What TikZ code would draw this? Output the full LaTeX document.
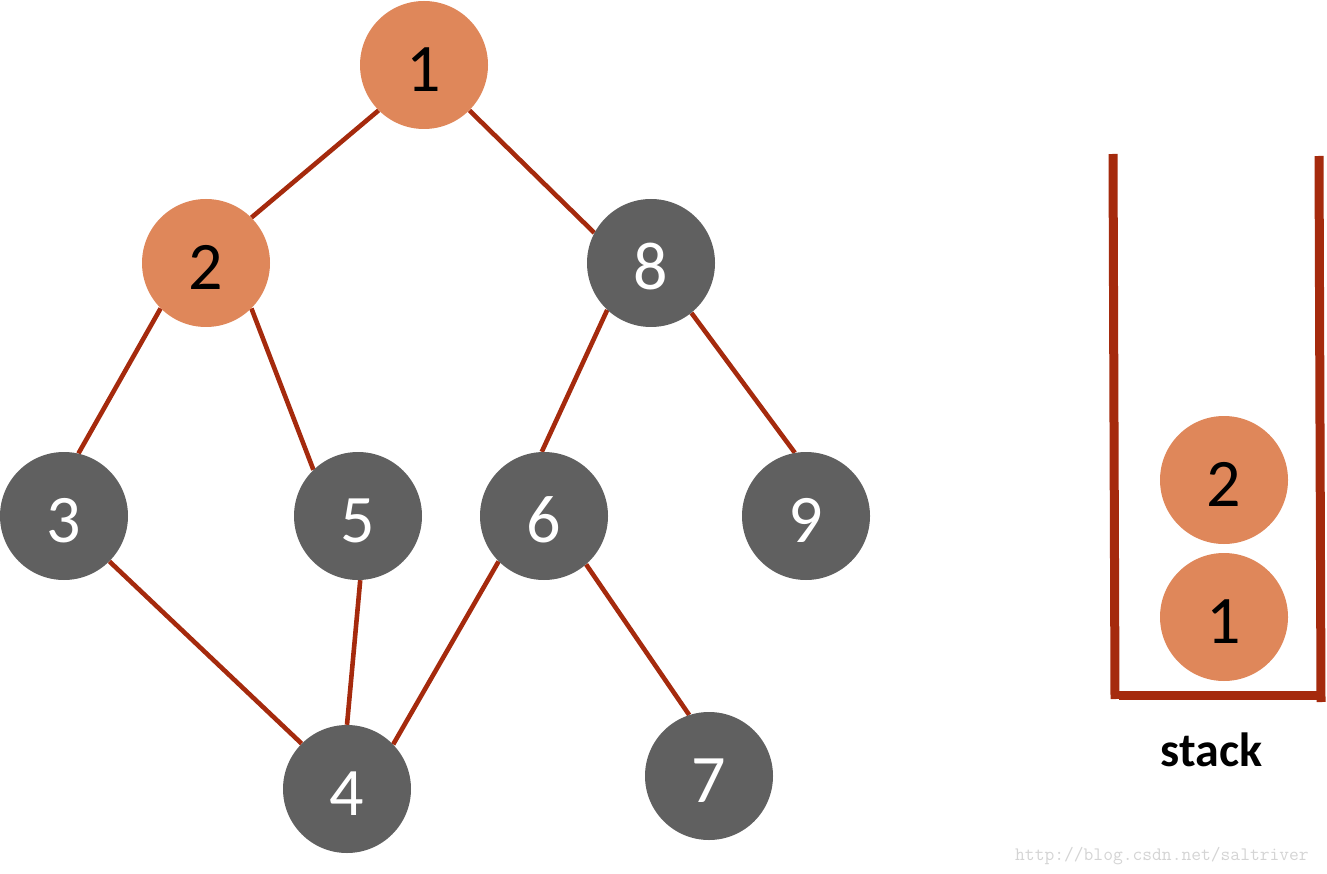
\documentclass[tikz,border=0pt]{standalone}
\usepackage{fontspec}
\setmainfont{Carlito}
\usetikzlibrary{backgrounds}
\definecolor{orangefill}{RGB}{223,135,90}
\definecolor{grayfill}{RGB}{96,96,96}
\definecolor{edgered}{RGB}{165,42,13}
\definecolor{wmgray}{RGB}{212,212,212}
\tikzset{
  vnode/.style={circle, minimum size=128pt, inner sep=0pt, text height=53pt, text depth=0pt,
    font=\fontsize{68}{68}\selectfont},
  visited/.style={vnode, fill=orangefill, text=black},
  unvisited/.style={vnode, fill=grayfill, text=white},
  edge/.style={draw=edgered, line width=4.6pt},
  wall/.style={draw=edgered, line width=9pt},
}
\begin{document}
\begin{tikzpicture}[x=1pt,y=-1pt]
\useasboundingbox (0,0) rectangle (1327,874);
\node[visited] (n1) at (424,65) {1};
\node[visited] (n2) at (206,263) {2};
\node[unvisited] (n8) at (651,263) {8};
\node[unvisited] (n3) at (64,516) {3};
\node[unvisited] (n5) at (358,516) {5};
\node[unvisited] (n6) at (544,516) {6};
\node[unvisited] (n9) at (806,516) {9};
\node[unvisited] (n4) at (347,789) {4};
\node[unvisited] (n7) at (709,776) {7};
\begin{scope}[on background layer]
\draw[edge] (n1.225) -- (n2.45);
\draw[edge] (n1.-45) -- (n8.152);
\draw[edge] (n2.225) -- (n3.77);
\draw[edge] (n2.-45) -- (n5.134);
\draw[edge] (n8.227) -- (n6.92);
\draw[edge] (n8.-51) -- (n9.100);
\draw[edge] (n3.-45) -- (n4.135);
\draw[edge] (n5.-88) -- (n4.90);
\draw[edge] (n6.225) -- (n4.44);
\draw[edge] (n6.-49) -- (n7.108);
\end{scope}
% stack
\coordinate (tl) at (1113,154);
\coordinate (bl) at (1115,699);
\coordinate (tr) at (1319,156);
\coordinate (br) at (1321,702);
\coordinate (bbl) at (1119,695.5);
\coordinate (bbr) at (1323,695.5);
\draw[wall] (tl) -- (bl);
\draw[wall] (tr) -- (br);
\draw[wall] (bbl) -- (bbr);
\node[visited] (s2) at (1224,480) {2};
\node[visited] (s1) at (1224,617) {1};
\node[anchor=base, font=\fontsize{48}{48}\selectfont\bfseries, inner sep=0pt] (lbl) at (1211.5,766) {stack};
\node[anchor=base west, inner sep=0pt, text=wmgray, font=\fontsize{19}{19}\selectfont\ttfamily] (wm) at (1015,860) {http://blog.csdn.net/saltriver};
\end{tikzpicture}
\end{document}
